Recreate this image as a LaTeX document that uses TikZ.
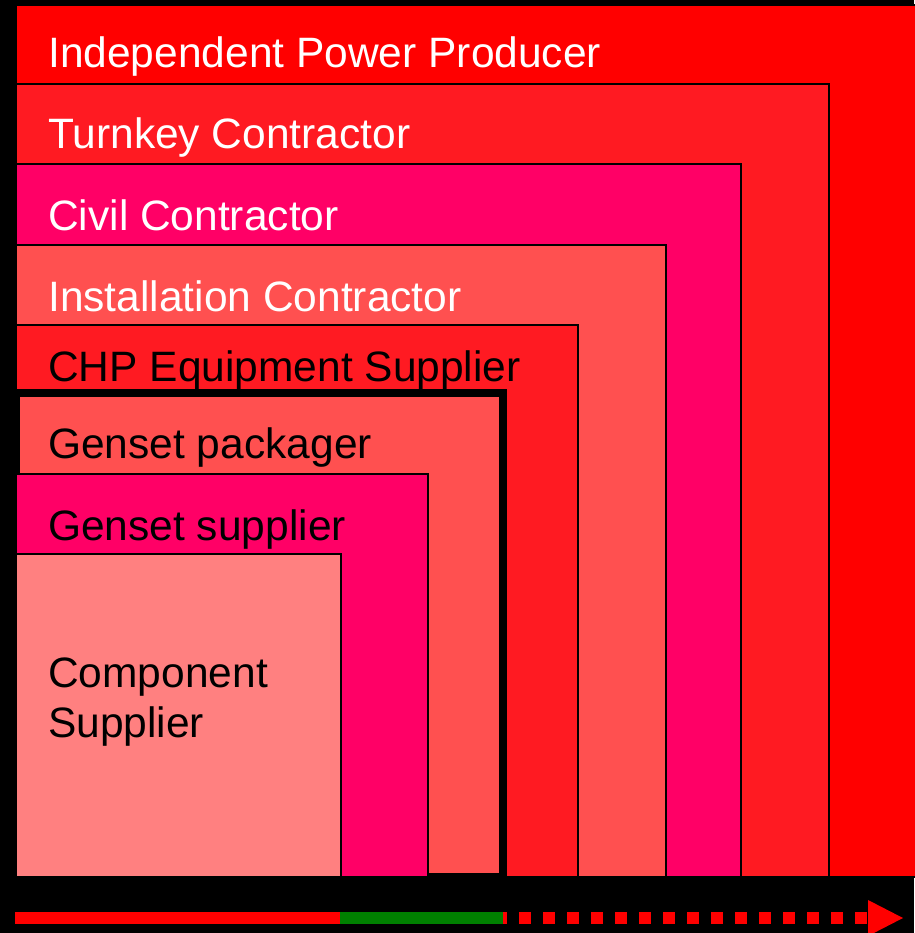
\documentclass[tikz,border=0pt]{standalone}
\usepackage{fontspec}
\setmainfont{Liberation Sans}
\usetikzlibrary{arrows.meta}
\usetikzlibrary{positioning}

\definecolor{ippred}{HTML}{FF0000}
\definecolor{keyred}{HTML}{FF1A22}
\definecolor{civilpink}{HTML}{FF0066}
\definecolor{salmon}{HTML}{FF5050}
\definecolor{lightsalmon}{HTML}{FF8080}
\definecolor{trackgreen}{HTML}{008000}

\begin{document}
\begin{tikzpicture}
    [x=1pt, y=-1pt,
      every node/.style={anchor=base west, inner sep=0pt,
        font=\fontsize{42.5}{50}\selectfont},
      layer/.style={draw=black, line width=2pt},
      thicklayer/.style={draw=black, line width=8pt},
      light/.style={text=white},
      dark/.style={text=black},
      track/.style={line width=12pt}, % bottom arrow
     ]
    \useasboundingbox (0,0) rectangle (914,933);
    \fill[black] (0,0) rectangle (914,933);

    % nested layers, outermost first
    \draw[layer, fill=ippred] (16,5) rectangle (920,877);
    \node[light] (ipp) at (48,68) {Independent Power Producer};
    \draw[layer, fill=keyred] (16,84) rectangle (829,877);
    \node[light] (turnkey) at (48,149) {Turnkey Contractor};
    \draw[layer, fill=civilpink] (16,164) rectangle (741,877);
    \node[light] (civil) at (48,230) {Civil Contractor};
    \draw[layer, fill=salmon] (16,245) rectangle (666,877);
    \node[light] (install) at (48,311) {Installation Contractor};
    \draw[layer, fill=keyred] (16,325) rectangle (578,877);
    \node[dark] (chp) at (48,381) {CHP Equipment Supplier};
    \draw[thicklayer, fill=salmon] (16,393) rectangle (503,877);
    \node[dark] (packager) at (48,458) {Genset packager};
    \draw[layer, fill=civilpink] (16,474) rectangle (428,877);
    \node[dark] (gensupp) at (48,540) {Genset supplier};
    \draw[layer, fill=lightsalmon] (16,554) rectangle (341,877);
    \node[dark, align=left] (component) at (48,737) {Component\\Supplier};

    % bottom arrow
    \coordinate (trackstart) at (15,918);
    \coordinate (trackend) at (507,918);
    \coordinate (greenstart) at (340,918);
    \coordinate (greenend) at (503,918);
    \coordinate (dashstart) at (519,918);
    \coordinate (tip) at (903,918);
    \draw[track, ippred] (trackstart) -- (trackend);
    \draw[track, trackgreen] (greenstart) -- (greenend);
    \draw[track, ippred, dash pattern=on 12pt off 12pt,
      -{Triangle[length=35pt, width=36pt, line width=0pt]}] (dashstart) -- (tip);
\end{tikzpicture}
\end{document}
